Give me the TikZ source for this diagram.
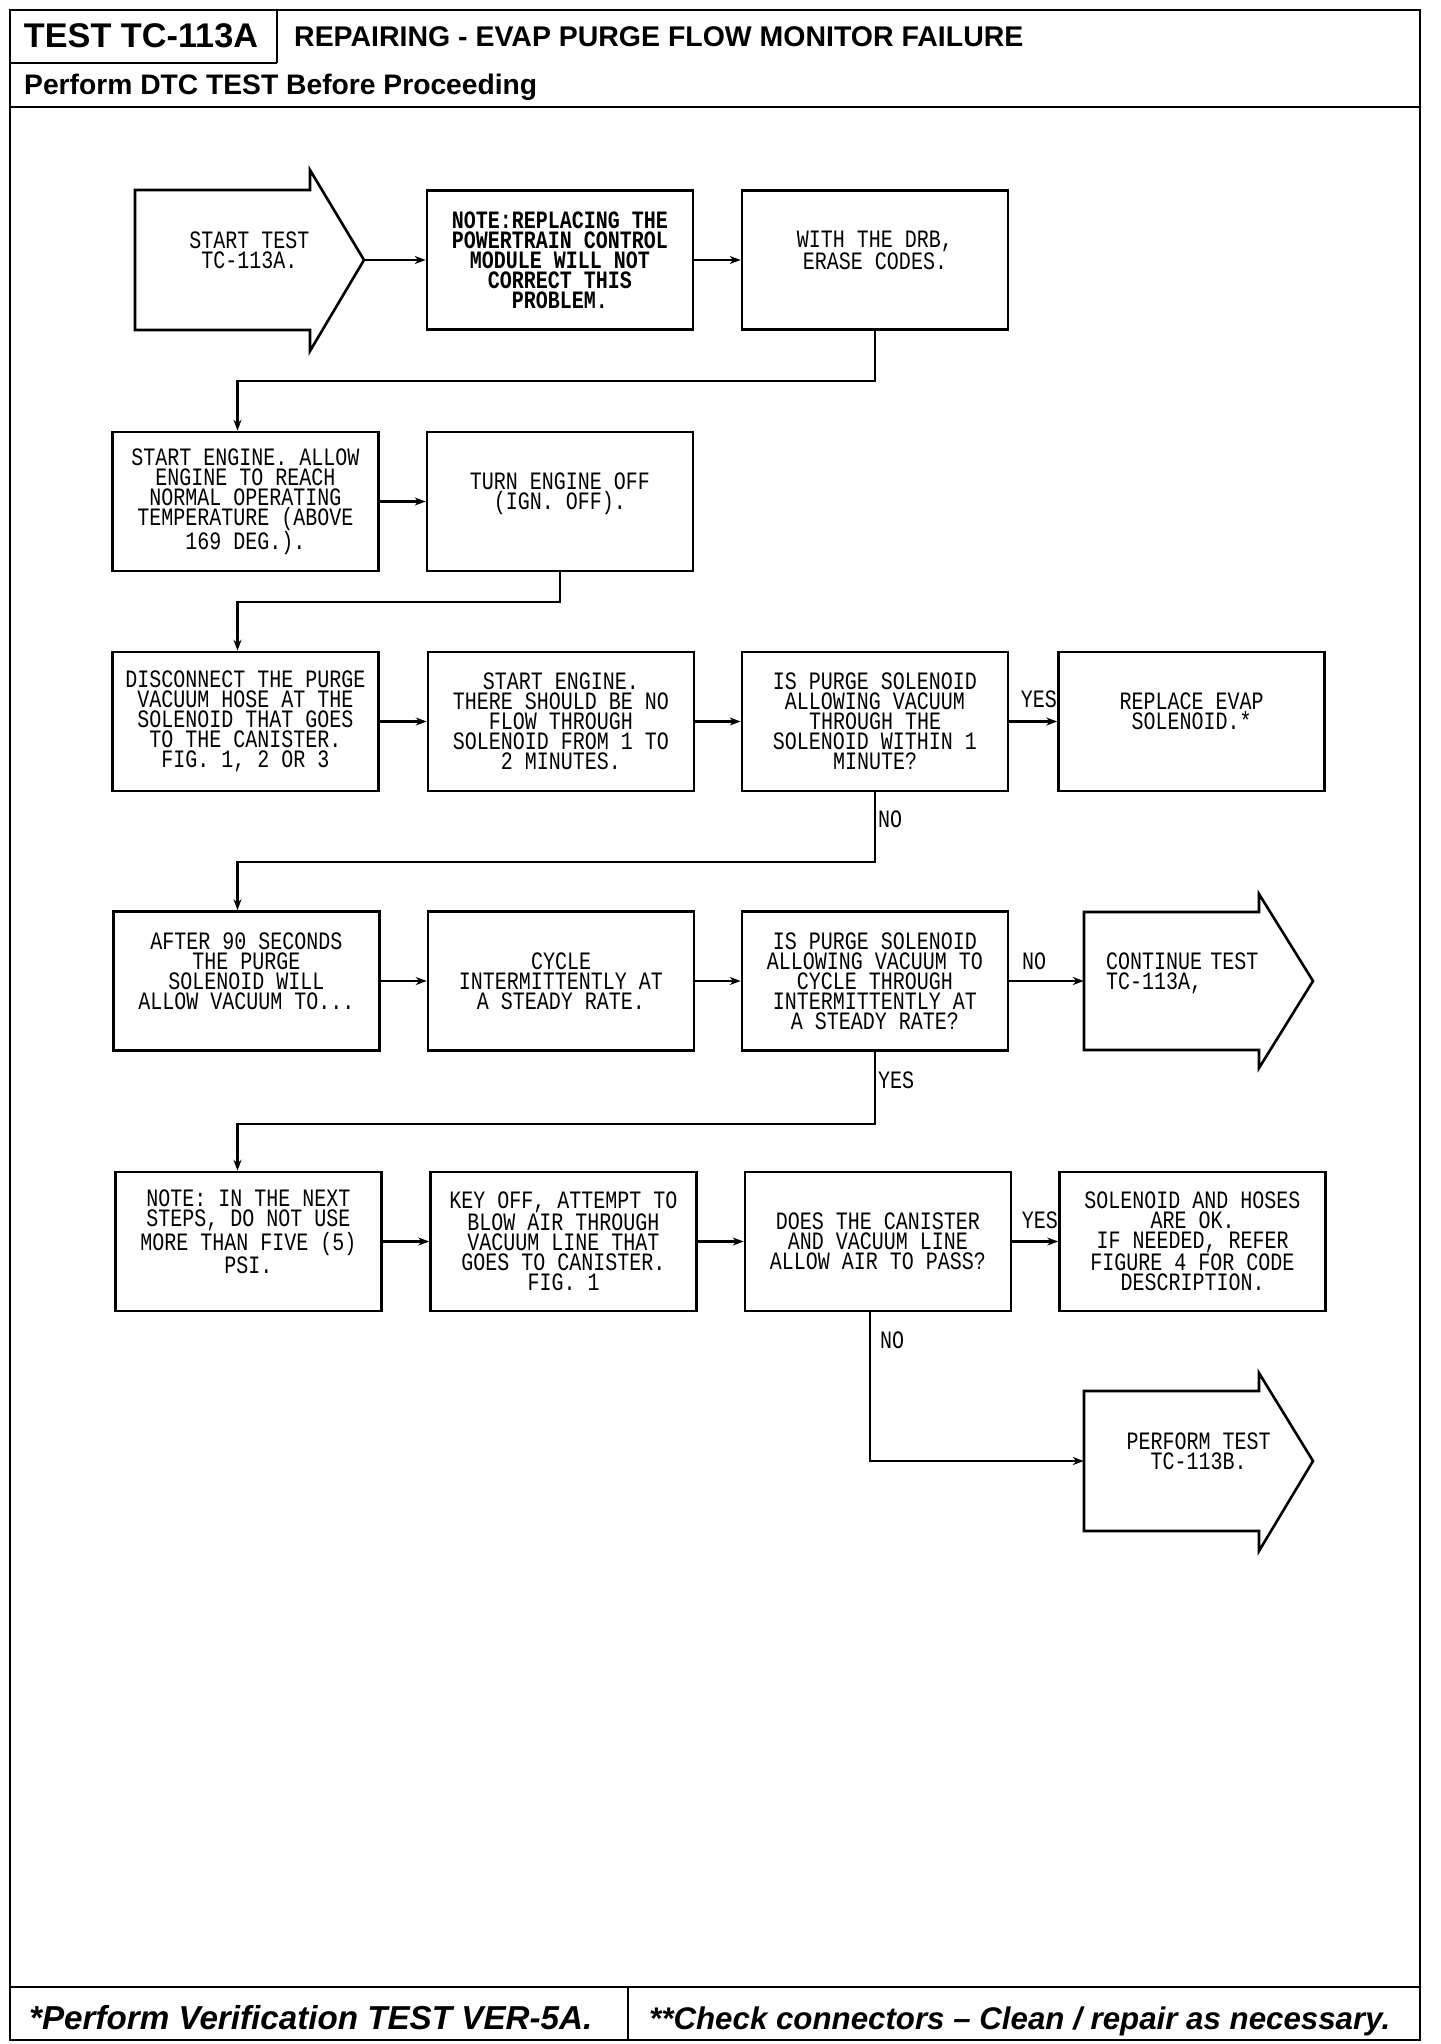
\documentclass[tikz,border=0pt]{standalone}
\usepackage{fontspec}
\usepackage{graphicx}
\setmainfont{Liberation Sans}
\newfontfamily\plotfont[FakeStretch=0.8]{Liberation Mono}
\usetikzlibrary{arrows.meta}
\begin{document}
\begin{tikzpicture}[x=1pt,y=-1pt,
  plot/.style={font=\plotfont\fontsize{25}{20}\selectfont},
  box/.style={plot,draw,line width=2.6pt,minimum width=266pt,minimum height=139pt,inner sep=0pt,align=center},
  atext/.style={plot,minimum width=229pt,minimum height=139pt,inner sep=0pt,align=center},
  shapeline/.style={line width=2.6pt,line join=miter},
  arr/.style={line width=2.3pt,-{Stealth[length=11pt,width=8pt]}},
  lbl/.style={plot,inner sep=0pt},
  frame/.style={line width=2.8pt},
  hdr/.style={inner sep=0pt}]
\useasboundingbox (0,0) rectangle (1440,2044);
% frame and header
\draw[frame] (10,10) rectangle (1420,2040);
\draw[frame] (10,63) -- (277,63);
\draw[frame] (277,10) -- (277,63);
\draw[frame] (10,107) -- (1420,107);
\draw[frame] (10,1987) -- (1420,1987);
\draw[frame] (628,1987) -- (628,2040);
\node[hdr,anchor=base] (tid) at (141,48) {\resizebox{234pt}{!}{\bfseries TEST TC-113A}};
\node[hdr,anchor=base west] (title) at (294,47) {\resizebox{729pt}{!}{\bfseries REPAIRING - EVAP PURGE FLOW MONITOR FAILURE}};
\node[hdr,anchor=base west] (pre) at (24,95) {\resizebox{513pt}{!}{\bfseries Perform DTC TEST Before Proceeding}};
\node[hdr,anchor=base west] (foot1) at (29,2029) {\resizebox{563pt}{!}{\bfseries\itshape *Perform Verification TEST VER-5A.}};
\node[hdr,anchor=base west] (foot2) at (649,2029) {\resizebox{741pt}{!}{\bfseries\itshape **Check connectors -- Clean / repair as necessary.}};

% arrow shapes
\draw[shapeline] (135,190) -- (310,190) -- (310,170) -- (364,260) -- (310,351) -- (310,330) -- (135,330) -- cycle;
\draw[shapeline] (1084,912) -- (1259,912) -- (1259,894) -- (1313,981) -- (1259,1068) -- (1259,1050) -- (1084,1050) -- cycle;
\draw[shapeline] (1084,1391) -- (1259,1391) -- (1259,1373) -- (1313,1461) -- (1259,1551) -- (1259,1531) -- (1084,1531) -- cycle;
\node[atext] (start) at (249.5,260) {START TEST\\TC-113A.\\\mbox{}};
\node[atext,text width=185pt,align=left] (cont) at (1198.5,981) {CONTINUE TEST\\TC-113A,\\\mbox{}};
\node[atext] (perf) at (1198.5,1461) {PERFORM TEST\\TC-113B.\\\mbox{}};

% row 1
\node[box,font=\plotfont\bfseries\fontsize{25}{20}\selectfont] (note) at (560,260) {NOTE:REPLACING THE\\POWERTRAIN CONTROL\\MODULE WILL NOT\\CORRECT THIS\\PROBLEM.};
\node[box] (drb) at (875,260) {WITH THE DRB,\\ERASE CODES.\\\mbox{}};
% row 2
\node[box] (se) at (245.5,501.5) {START ENGINE. ALLOW\\ENGINE TO REACH\\NORMAL OPERATING\\TEMPERATURE (ABOVE\\169 DEG.).};
\node[box] (off) at (560,501.5) {TURN ENGINE OFF\\(IGN. OFF).\\\mbox{}};
% row 3
\node[box] (disc) at (245.5,721.5) {DISCONNECT THE PURGE\\VACUUM HOSE AT THE\\SOLENOID THAT GOES\\TO THE CANISTER.\\FIG. 1, 2 OR 3};
\node[box] (se2) at (561,721.5) {START ENGINE.\\THERE SHOULD BE NO\\FLOW THROUGH\\SOLENOID FROM 1 TO\\2 MINUTES.};
\node[box] (ip1) at (875,721.5) {IS PURGE SOLENOID\\ALLOWING VACUUM\\THROUGH THE\\SOLENOID WITHIN 1\\MINUTE?};
\node[box] (rep) at (1191.5,721.5) {REPLACE EVAP\\SOLENOID.*\\\mbox{}};
% row 4
\node[box] (after) at (246.5,981) {AFTER 90 SECONDS\\THE PURGE\\SOLENOID WILL\\ALLOW VACUUM TO...\\\mbox{}};
\node[box] (cyc) at (561,981) {CYCLE\\INTERMITTENTLY AT\\A STEADY RATE.};
\node[box] (ip2) at (875,981) {IS PURGE SOLENOID\\ALLOWING VACUUM TO\\CYCLE THROUGH\\INTERMITTENTLY AT\\A STEADY RATE?};
% row 5
\node[box] (nn) at (248.5,1241.5) {NOTE: IN THE NEXT\\STEPS, DO NOT USE\\MORE THAN FIVE (5)\\PSI.\\\mbox{}};
\node[box] (key) at (563.5,1241.5) {KEY OFF, ATTEMPT TO\\BLOW AIR THROUGH\\VACUUM LINE THAT\\GOES TO CANISTER.\\FIG. 1};
\node[box] (does) at (878,1241.5) {DOES THE CANISTER\\AND VACUUM LINE\\ALLOW AIR TO PASS?};
\node[box] (ok) at (1192.5,1241.5) {SOLENOID AND HOSES\\ARE OK.\\IF NEEDED, REFER\\FIGURE 4 FOR CODE\\DESCRIPTION.};

% connectors
\draw[arr] (start.east) -- (note.west);
\draw[arr] (note.east) -- (drb.west);
\draw[arr] (drb.south) -- ++(0,50) -| ([xshift=-8pt]se.north);
\draw[arr] (se.east) -- (off.west);
\draw[arr] (off.south) -- ++(0,30) -| ([xshift=-8pt]disc.north);
\draw[arr] (disc.east) -- (se2.west);
\draw[arr] (se2.east) -- (ip1.west);
\draw[arr] (ip1.east) -- (rep.west);
\draw[arr] (ip1.south) -- ++(0,70) -| ([xshift=-9pt]after.north);
\draw[arr] (after.east) -- (cyc.west);
\draw[arr] (cyc.east) -- (ip2.west);
\draw[arr] (ip2.east) -- (cont.west);
\draw[arr] (ip2.south) -- ++(0,72) -| ([xshift=-11pt]nn.north);
\draw[arr] (nn.east) -- (key.west);
\draw[arr] (key.east) -- (does.west);
\draw[arr] (does.east) -- (ok.west);
\draw[arr] ([xshift=-8pt]does.south) |- (perf.west);

% labels
\node[lbl,anchor=east] (yes1) at (1057,699) {YES};
\node[lbl,anchor=west] (no1) at (878,819) {NO};
\node[lbl,anchor=west] (no2) at (1022,961) {NO};
\node[lbl,anchor=west] (yes2) at (878,1080) {YES};
\node[lbl,anchor=east] (yes3) at (1058,1220) {YES};
\node[lbl,anchor=west] (no3) at (880,1340) {NO};
\end{tikzpicture}
\end{document}
